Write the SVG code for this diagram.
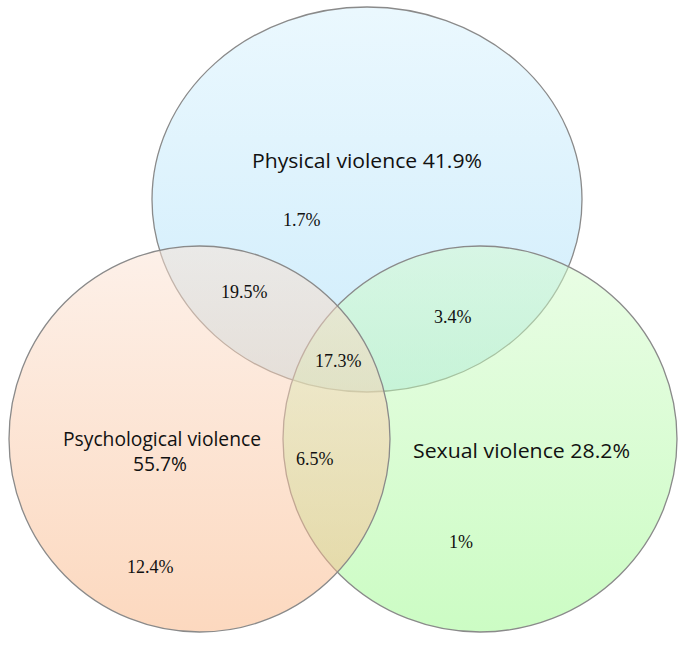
<svg xmlns="http://www.w3.org/2000/svg" width="685" height="645" viewBox="0 0 685 645">
  <defs>
    <linearGradient id="gBlue" x1="0" y1="0" x2="0" y2="1">
      <stop offset="0" stop-color="#d6f1fd"/>
      <stop offset="1" stop-color="#9fdaf8"/>
    </linearGradient>
    <linearGradient id="gOrange" x1="0" y1="0" x2="0" y2="1">
      <stop offset="0" stop-color="#fbe2d3"/>
      <stop offset="1" stop-color="#f9b27f"/>
    </linearGradient>
    <linearGradient id="gGreen" x1="0" y1="0" x2="0" y2="1">
      <stop offset="0" stop-color="#d5fbcd"/>
      <stop offset="1" stop-color="#99f989"/>
    </linearGradient>
  </defs>
  <style>
    .set { fill-opacity: 0.5; stroke: #8a8a8a; stroke-width: 1.3; }
    .title { font-family: "Open Sans", "Noto Sans", sans-serif; font-size: 20px; fill: #111; }
    .pct { font-family: "Liberation Serif", "Times New Roman", serif; font-size: 18px; fill: #111; }
  </style>
  <g id="physical">
    <ellipse class="set" cx="367" cy="199.5" rx="215" ry="192.5" fill="url(#gBlue)"/>
  </g>
  <g id="sexual">
    <ellipse class="set" cx="480" cy="439" rx="197" ry="193" fill="url(#gGreen)"/>
  </g>
  <g id="psychological">
    <ellipse class="set" cx="199.5" cy="439" rx="190.5" ry="193" fill="url(#gOrange)"/>
  </g>
  <g id="labels">
    <text class="title" x="252" y="168" textLength="230" lengthAdjust="spacingAndGlyphs">Physical violence 41.9%</text>
    <text class="title" x="63" y="446" textLength="198" lengthAdjust="spacingAndGlyphs">Psychological violence</text>
    <text class="title" x="133" y="471" textLength="54" lengthAdjust="spacingAndGlyphs">55.7%</text>
    <text class="title" x="413" y="458" textLength="217" lengthAdjust="spacingAndGlyphs">Sexual violence 28.2%</text>
    <text class="pct" x="283" y="226">1.7%</text>
    <text class="pct" x="221" y="298">19.5%</text>
    <text class="pct" x="434" y="323">3.4%</text>
    <text class="pct" x="315" y="367">17.3%</text>
    <text class="pct" x="296" y="465">6.5%</text>
    <text class="pct" x="127" y="573">12.4%</text>
    <text class="pct" x="449" y="548">1%</text>
  </g>
</svg>
